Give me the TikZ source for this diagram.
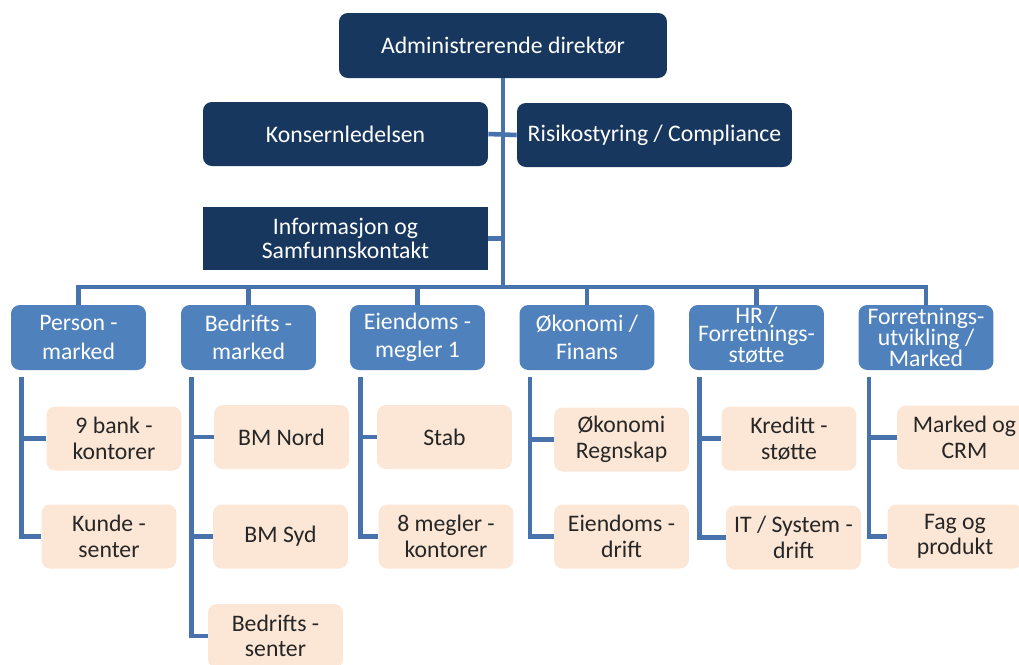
\documentclass[tikz,border=0pt]{standalone}
\usepackage{fontspec}
\setmainfont{Carlito}
\definecolor{org_navy}{RGB}{23, 55, 94}
\definecolor{org_blue}{RGB}{79, 129, 189}
\definecolor{org_line}{RGB}{72, 114, 172}
\definecolor{org_peach}{RGB}{252, 231, 214}
\usetikzlibrary{positioning, calc}

\begin{document}
\begin{tikzpicture}[x=0.02cm, y=-0.02cm,
            font=\fontsize{13.5}{16}\selectfont,
            lead/.style={fill=org_navy, text=white, align=center, inner sep=0pt,
                         rounded corners=5pt, minimum height=1.28cm},
            dept/.style={fill=org_blue, text=white, align=center, inner sep=0pt,
                         rounded corners=5pt, minimum width=2.7cm, minimum height=1.3cm},
            unit/.style={fill=org_peach, text=black!85, align=center, inner sep=0pt,
                         rounded corners=5pt, minimum width=2.7cm, minimum height=1.28cm,
                         font=\fontsize{13.5}{14.5}\selectfont},
            con/.style={draw=org_line, line width=2.6pt}]
            \useasboundingbox (0,0) rectangle (1019,664);
            \node[lead, minimum width=6.56cm, minimum height=1.3cm] (adm)
              at (503,45.5) {Administrerende direktør};
            \node[lead, minimum width=5.7cm] (kons) at (345.5,134) {Konsernledelsen};
            \node[lead, minimum width=5.5cm] (risk) at (654.5,135) {Risikostyring / Compliance};
            \node[lead, minimum width=5.7cm, minimum height=1.26cm, rounded corners=0pt,
                  font=\fontsize{13.5}{13.5}\selectfont]
              (info) at (345.5,238.5) {Informasjon og\\Samfunnskontakt};
            \coordinate (hub) at (503,287);

            \node[dept] (pm) at (78.5,337.5) {Person -\\marked};
            \node[dept] (bm) at (248.5,337.5) {Bedrifts -\\marked};
            \node[dept] (em) at (417.5,337.5) {Eiendoms -\\megler 1};
            \node[dept] (of) at (587,337.5) {Økonomi /\\Finans};
            \node[dept, font=\fontsize{13.5}{10.5}\selectfont, text depth=3pt] (hr)
              at (756.5,337.5) {HR /\\Forretnings-\\støtte};
            \node[dept, font=\fontsize{13.5}{12}\selectfont] (fu)
              at (926,337.5) {Forretnings-\\utvikling /\\Marked};

            \node[unit] (p1) at (114,438.5) {9 bank -\\kontorer};
            \node[unit] (p2) at (109,536.5) {Kunde -\\senter};
            \node[unit] (b1) at (281.5,437) {BM Nord};
            \node[unit] (b2) at (280.5,536.5) {BM Syd};
            \node[unit] (b3) at (275.5,636) {Bedrifts -\\senter};
            \node[unit] (e1) at (444.5,437) {Stab};
            \node[unit] (e2) at (446,536.5) {8 megler -\\kontorer};
            \node[unit] (o1) at (621.5,439.5) {Økonomi\\Regnskap};
            \node[unit] (o2) at (621.5,536.5) {Eiendoms -\\drift};
            \node[unit] (h1) at (789,438.5) {Kreditt -\\støtte};
            \node[unit] (h2) at (793.5,537.5) {IT / System -\\drift};
            \node[unit] (f1) at (964.5,437.5) {Marked og\\CRM};
            \node[unit] (f2) at (955,536.5) {Fag og\\produkt};

            \draw[con] (adm) -- (hub);
            \draw[con] (kons.east) -- (risk.west);
            \draw[con] (info.east) -- (info.east -| hub);
            \draw[con] (pm.north) |- (hub) -| (fu.north);
            \foreach \d in {bm, em, of, hr}
              \draw[con] (\d.north) -- (\d.north |- hub);

            \foreach \d/\a/\b in {pm/p1/p2, em/e1/e2, of/o1/o2, hr/h1/h2, fu/f1/f2, bm/b1/b3}{
              \coordinate (\d x) at ([shift={(11,7)}]\d.south west);
              \draw[con] (\d x) |- (\b.west);
              \draw[con] (\d x |- \a.west) -- (\a.west);
            }
            \draw[con] (bmx |- b2.west) -- (b2.west);
          \end{tikzpicture}
\end{document}
